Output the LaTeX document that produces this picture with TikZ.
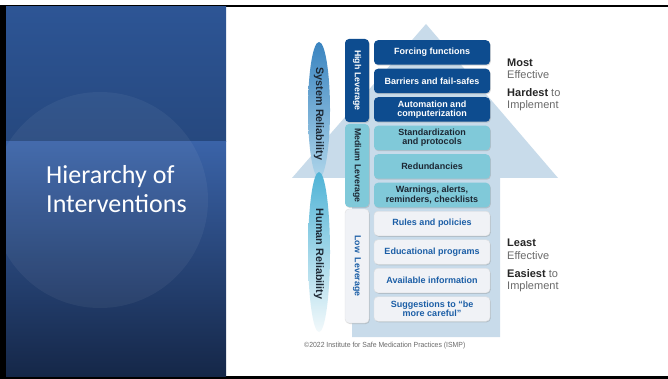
\documentclass[tikz,border=0pt]{standalone}
\usepackage{fontspec}
\setmainfont{Liberation Sans}
\newfontfamily\ismpfont{Liberation Sans}
\newfontfamily\slidefont{Carlito}
\usetikzlibrary{shapes.geometric, shadows}

\definecolor{panelTop}{HTML}{2D5595}
\definecolor{panelBand}{HTML}{3A63A8}
\definecolor{panelBot}{HTML}{152748}
\definecolor{arrowFill}{HTML}{C8DBEA}
\definecolor{ismpNavy}{HTML}{0D4C8F}
\definecolor{ismpCyan}{HTML}{80C9D9}
\definecolor{ismpPale}{HTML}{F0F2F6}
\definecolor{lowInk}{HTML}{1B5EA6}
\definecolor{medInk}{HTML}{1C2733}
\definecolor{noteGray}{HTML}{6A6A6A}
\definecolor{sysTop}{HTML}{3A84C0}
\definecolor{sysBot}{HTML}{AED5EA}
\definecolor{humTop}{HTML}{4FB3D6}
\definecolor{humBot}{HTML}{F2F9FB}

\begin{document}
\begin{tikzpicture}[x=1pt, y=-1pt,
    shadowed/.style={drop shadow={shadow xshift=0.8pt, shadow yshift=-1pt, opacity=0.3}},
    boxbase/.style={shadowed, rounded corners=4pt, minimum width=116pt, minimum height=24.5pt,
        inner sep=0pt, align=center, font=\ismpfont\bfseries\fontsize{9}{9.3}\selectfont},
    highbox/.style={boxbase, fill=ismpNavy, text=white},
    medbox/.style={boxbase, fill=ismpCyan, text=medInk},
    lowbox/.style={boxbase, fill=ismpPale, draw=black!12, text=lowInk},
    lever/.style={shadowed, rounded corners=4pt, rotate=-90, minimum height=24pt, inner sep=0pt,
        font=\ismpfont\bfseries\fontsize{8.8}{9}\selectfont},
    reliab/.style={ellipse, minimum width=22pt, inner sep=0pt},
    reltext/.style={rotate=-90, text=medInk, font=\ismpfont\bfseries\fontsize{10.8}{11}\selectfont},
    side/.style={anchor=west, align=left, inner sep=0pt, text=noteGray,
        font=\ismpfont\fontsize{11}{12.5}\selectfont},
    title/.style={anchor=base west, inner sep=0pt, text=white, font=\slidefont\fontsize{26}{28}\selectfont}
]
    % Page and frame
    \useasboundingbox (0,0) rectangle (668,379);
    \fill[white] (0,0) rectangle (668,379);
    \fill[black] (0,5) rectangle (668,7);
    \fill[black] (0,376) rectangle (668,379);
    \fill[black] (0,5) rectangle (6,379);

    % Title panel
    \fill[top color=panelTop, bottom color=panelTop!85!black] (6,7) rectangle (226,142);
    \fill[top color=panelBand, bottom color=panelBot] (6,142) rectangle (226,376);
    \begin{scope}
        \clip (6,7) rectangle (226,376);
        \fill[white, opacity=0.05] (100,200) circle (108pt);
    \end{scope}
    \node[title] (titleA) at (46,184) {Hierarchy of};
    \node[title] (titleB) at (46,212) {Interventions};

    % Big arrow behind the boxes
    \fill[arrowFill] (426,24) -- (558,178) -- (500,178) -- (500,337)
        -- (352,337) -- (352,178) -- (292,178) -- cycle;

    % Reliability ellipses
    \node[reliab, minimum height=136pt, top color=sysTop, bottom color=sysBot] (sysRel) at (319,110) {};
    \node[reliab, minimum height=160pt, top color=humTop, bottom color=humBot] (humRel) at (319,252) {};
    \node[reltext] (sysText) at ([yshift=-4pt]sysRel.center) {System Reliability};
    \node[reltext] (humText) at ([yshift=-2pt]humRel.center) {Human Reliability};

    % Leverage column
    \node[lever, minimum width=83pt, fill=ismpNavy, text=white] (highLev) at (357,80.5) {High Leverage};
    \node[lever, minimum width=83pt, fill=ismpCyan, text=medInk] (medLev) at (357,165.5) {Medium Leverage};
    \node[lever, minimum width=114pt, fill=ismpPale, draw=black!12, text=lowInk] (lowLev) at (357,266) {Low\ \ Leverage};

    % High leverage strategies
    \node[highbox] (forcing) at (432,52.5) {Forcing functions};
    \node[highbox] (barriers) at (432,81) {Barriers and fail-safes};
    \node[highbox] (automation) at (432,109.5) {Automation and\\computerization};

    % Medium leverage strategies
    \node[medbox] (standard) at (432,138) {Standardization\\and protocols};
    \node[medbox] (redund) at (432,166.5) {Redundancies};
    \node[medbox] (warnings) at (432,195) {Warnings, alerts,\\reminders, checklists};

    % Low leverage strategies
    \node[lowbox] (rules) at (432,223.5) {Rules and policies};
    \node[lowbox] (education) at (432,252) {Educational programs};
    \node[lowbox] (available) at (432,280.5) {Available information};
    \node[lowbox] (careful) at (432,309) {Suggestions to “be\\more careful”};

    % Side notes
    \node[side] (mostEff) at (507,69) {\textcolor{black!85}{\bfseries Most}\\Effective};
    \node[side] (hardImp) at (507,99.5) {\textcolor{black!85}{\bfseries Hardest} to\\Implement};
    \node[side] (leastEff) at (507,249.5) {\textcolor{black!85}{\bfseries Least}\\Effective};
    \node[side] (easyImp) at (507,280.5) {\textcolor{black!85}{\bfseries Easiest} to\\Implement};

    % Credit line
    \node[anchor=west, inner sep=0pt, text=noteGray, font=\ismpfont\fontsize{7.4}{8}\selectfont]
        (credit) at (304,346) {\scalebox{0.93}[1]{\textcopyright2022 Institute for Safe Medication Practices (ISMP)}};
\end{tikzpicture}
\end{document}
